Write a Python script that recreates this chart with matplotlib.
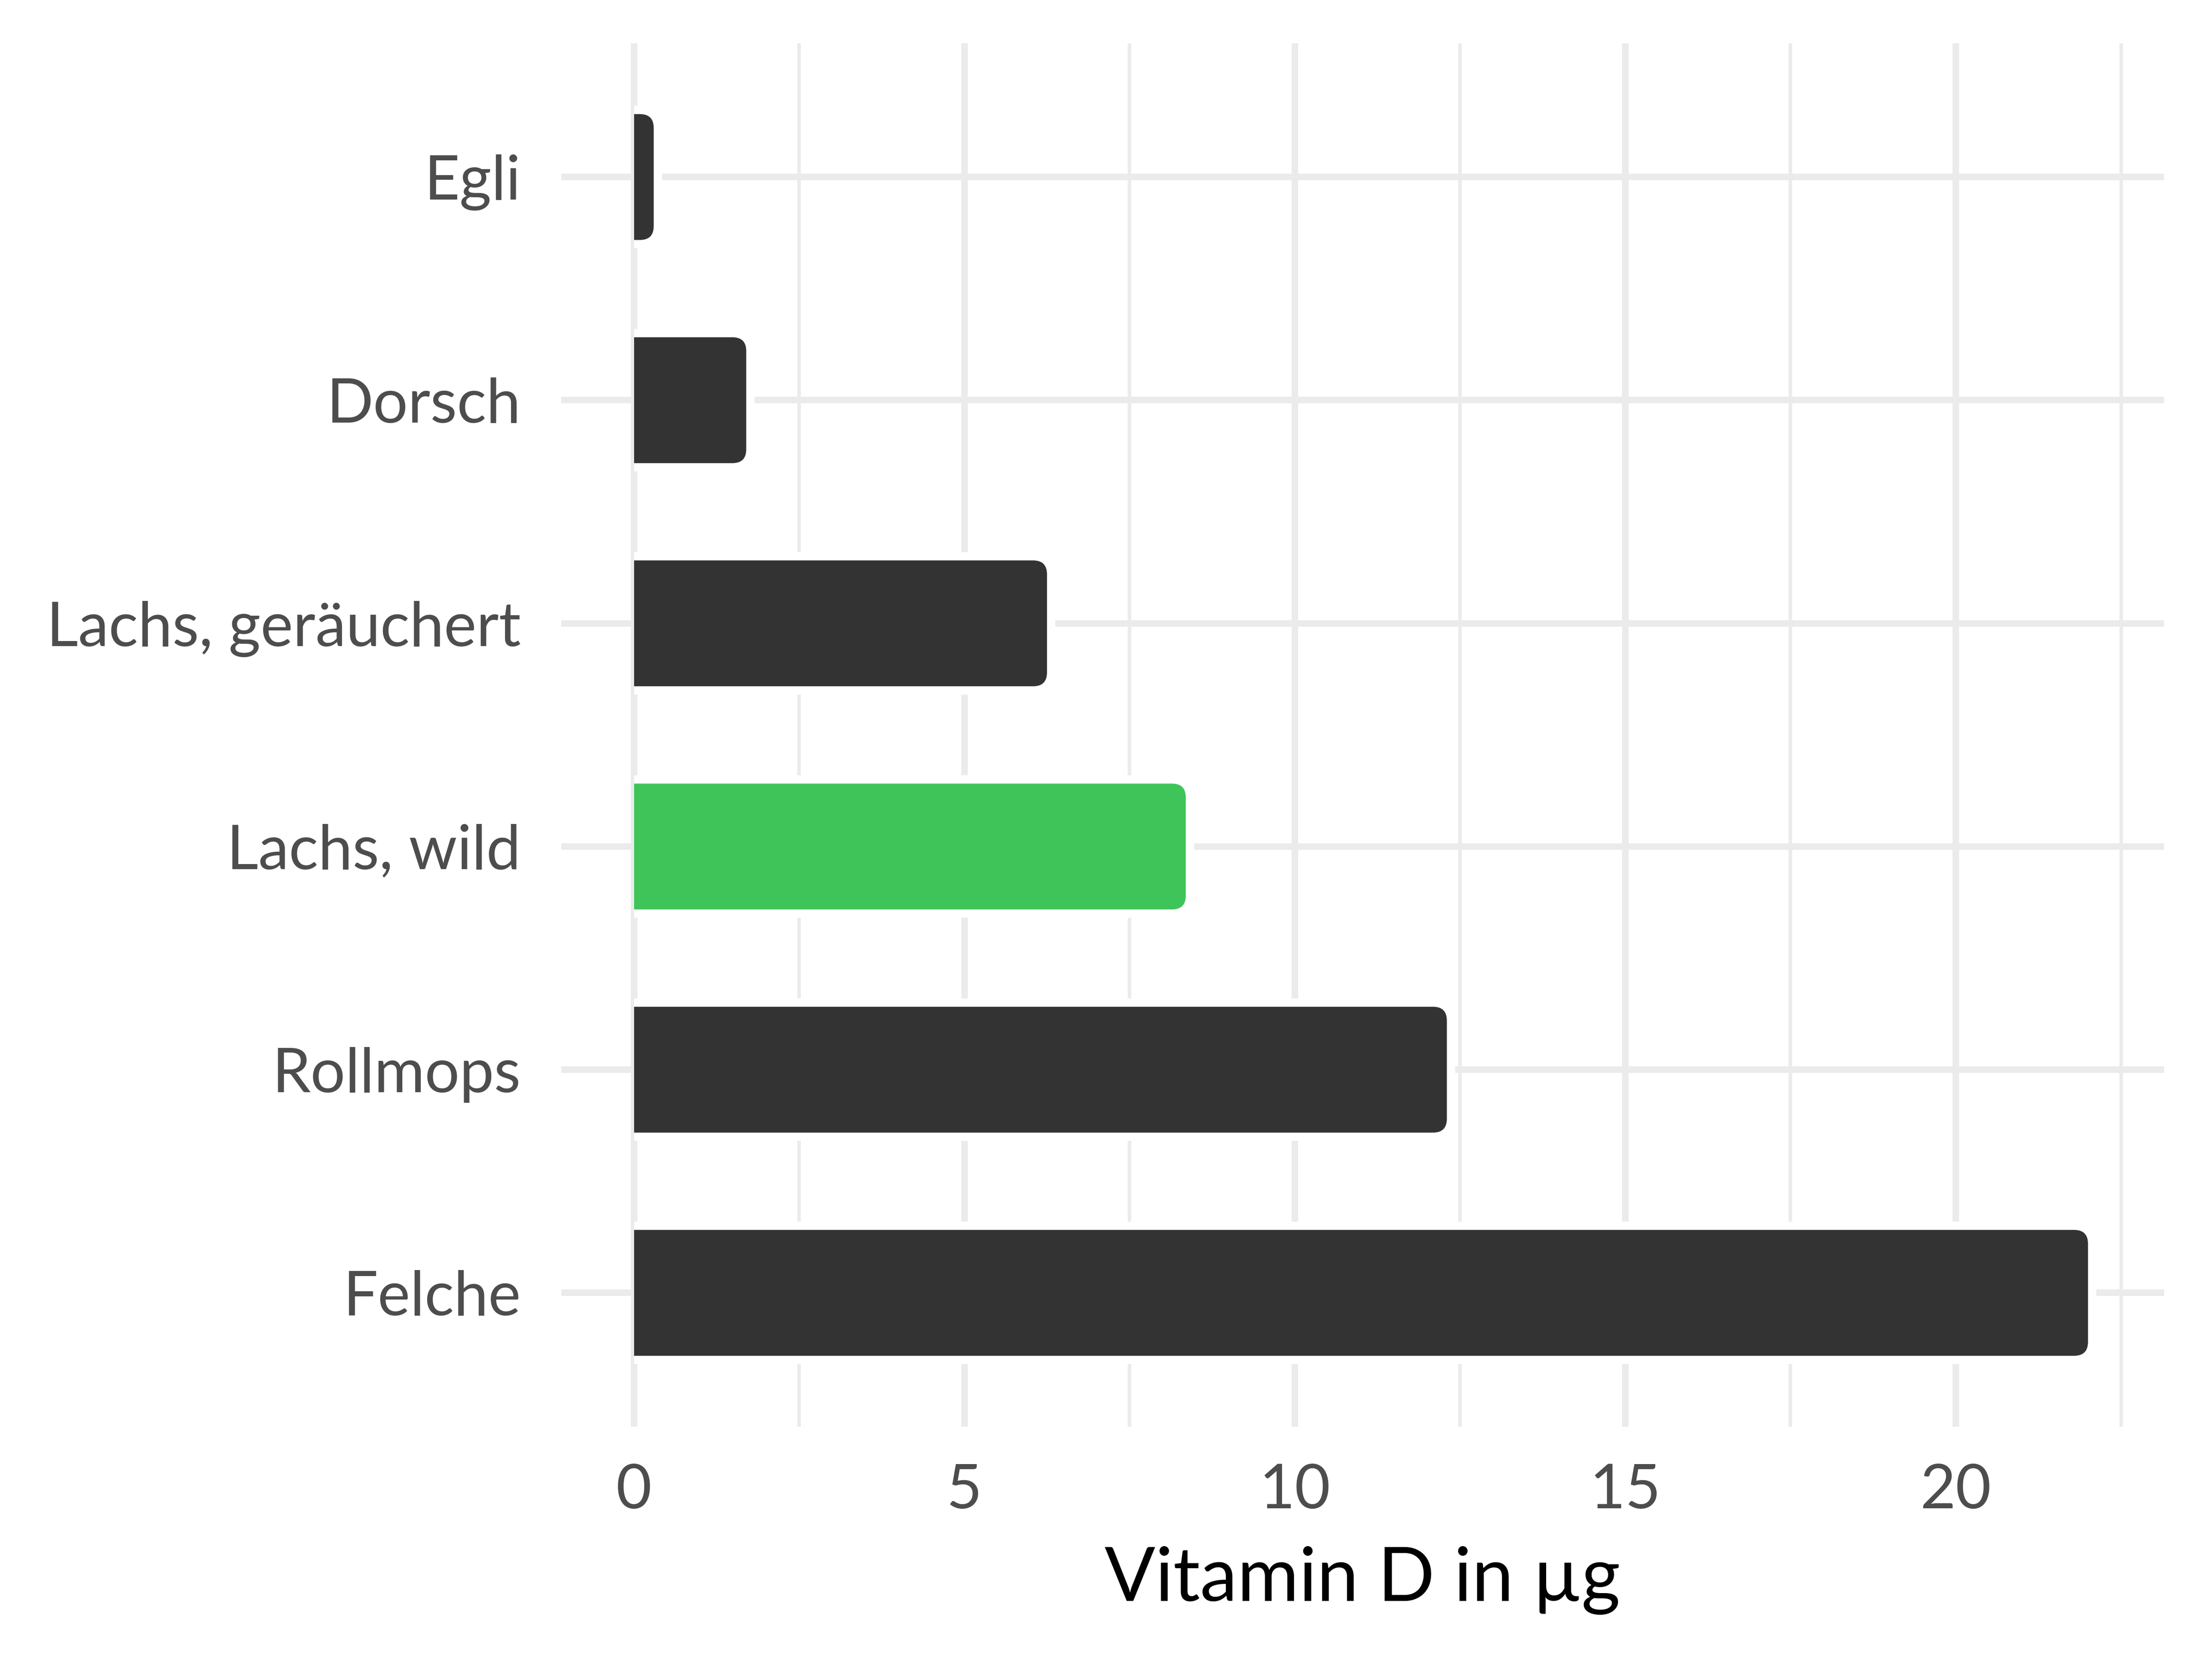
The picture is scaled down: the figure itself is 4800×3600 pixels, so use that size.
import matplotlib.pyplot as plt
from matplotlib.patches import FancyBboxPatch, Rectangle
from matplotlib.ticker import MultipleLocator

# Data (bottom to top)
foods = ["Felche", "Rollmops", "Lachs, wild", "Lachs, geräuchert", "Dorsch", "Egli"]
vitamin_d = [22.0, 12.3, 8.35, 6.25, 1.7, 0.3]
highlight = "Lachs, wild"

bar_color = "#333333"
hl_color = "#3FC45A"
grid_color = "#EBEBEB"

plt.rcParams['font.family'] = ['Lato', 'DejaVu Sans']

fig = plt.figure(figsize=(16, 12), dpi=300)
ax_rect = [0.2537, 0.14, 0.7246, 0.834]
ax = fig.add_axes(ax_rect)

xlim = (-1.1, 23.15)
ylim = (-0.6, len(foods) - 0.4)
ax.set_xlim(*xlim)
ax.set_ylim(*ylim)

# units per pixel, used to keep rounded corners circular
w_px = ax_rect[2] * 4800
h_px = ax_rect[3] * 3600
ux = (xlim[1] - xlim[0]) / w_px
uy = (ylim[1] - ylim[0]) / h_px
aspect = uy / ux

radius = 30 * ux
pad = 18 * ux
bar_h = 0.564

clip = Rectangle((0, -5), 100, 20, transform=ax.transData)

for i, (food, val) in enumerate(zip(foods, vitamin_d)):
    color = hl_color if food == highlight else bar_color
    x0 = -radius
    w = val + radius
    # white halo behind bar (cuts the grid lines)
    halo = FancyBboxPatch((x0, i - bar_h / 2), w, bar_h,
                          boxstyle=f"round,pad={pad},rounding_size={radius + pad}",
                          mutation_aspect=aspect, facecolor="white",
                          edgecolor="none", zorder=2)
    ax.add_patch(halo)
    halo.set_clip_path(clip)
    bar = FancyBboxPatch((x0, i - bar_h / 2), w, bar_h,
                         boxstyle=f"round,pad=0,rounding_size={radius}",
                         mutation_aspect=aspect, facecolor=color,
                         edgecolor="none", zorder=3)
    ax.add_patch(bar)
    bar.set_clip_path(clip)

ax.set_yticks(range(len(foods)))
ax.set_yticklabels(foods)
ax.xaxis.set_major_locator(MultipleLocator(5))
ax.xaxis.set_minor_locator(MultipleLocator(2.5))

ax.grid(True, which="major", color=grid_color, linewidth=3.4, zorder=0)
ax.grid(True, which="minor", axis="x", color=grid_color, linewidth=1.8, zorder=0)
ax.set_axisbelow(True)

for s in ax.spines.values():
    s.set_visible(False)

ax.tick_params(axis="both", which="both", length=0, labelsize=32, labelcolor="#4D4D4D")
ax.tick_params(axis="y", pad=21)
ax.tick_params(axis="x", pad=19)

ax.set_xlabel("Vitamin D in µg", fontsize=39, color="black", labelpad=14)

fig.savefig("out.png", dpi=300)
